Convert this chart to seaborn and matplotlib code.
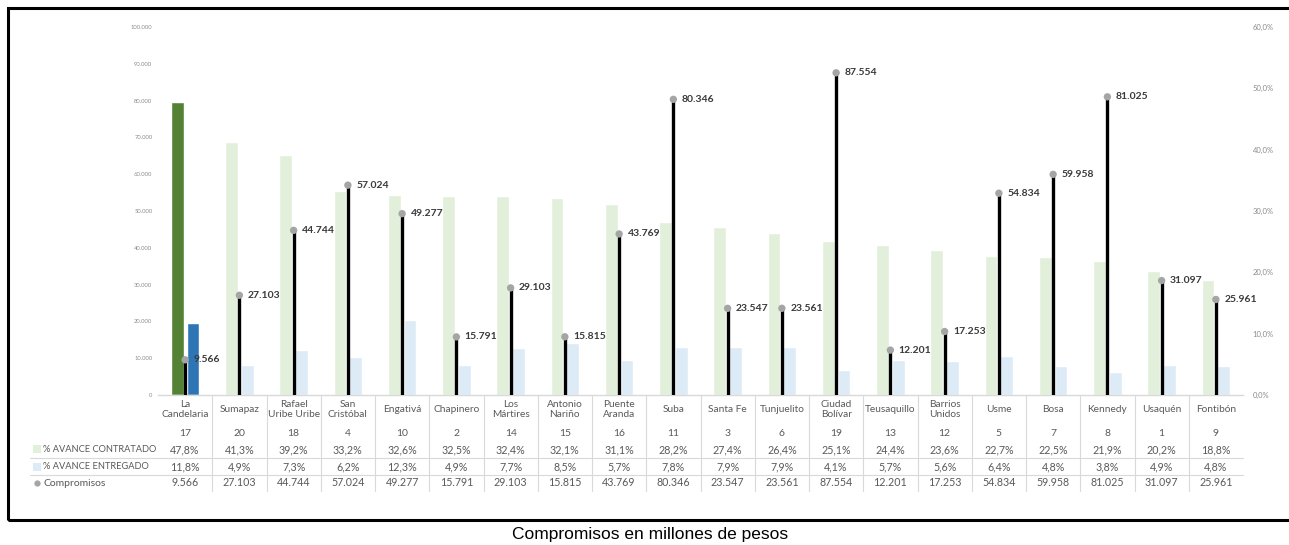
import numpy as np
import pandas as pd
import matplotlib
matplotlib.use("Agg")
import matplotlib.pyplot as plt
import matplotlib.transforms as mtransforms
from matplotlib.patches import Rectangle
import seaborn as sns

# datos por localidad
localidades = ["La Candelaria", "Sumapaz", "Rafael Uribe Uribe", "San Cristóbal", "Engativá",
               "Chapinero", "Los Mártires", "Antonio Nariño", "Puente Aranda", "Suba",
               "Santa Fe", "Tunjuelito", "Ciudad Bolívar", "Teusaquillo", "Barrios Unidos",
               "Usme", "Bosa", "Kennedy", "Usaquén", "Fontibón"]
etiquetas = ["La\nCandelaria", "Sumapaz", "Rafael\nUribe Uribe", "San\nCristóbal", "Engativá",
             "Chapinero", "Los\nMártires", "Antonio\nNariño", "Puente\nAranda", "Suba",
             "Santa Fe", "Tunjuelito", "Ciudad\nBolívar", "Teusaquillo", "Barrios\nUnidos",
             "Usme", "Bosa", "Kennedy", "Usaquén", "Fontibón"]
codigos = [17, 20, 18, 4, 10, 2, 14, 15, 16, 11, 3, 6, 19, 13, 12, 5, 7, 8, 1, 9]
contratado = [47.8, 41.3, 39.2, 33.2, 32.6, 32.5, 32.4, 32.1, 31.1, 28.2,
              27.4, 26.4, 25.1, 24.4, 23.6, 22.7, 22.5, 21.9, 20.2, 18.8]
entregado = [11.8, 4.9, 7.3, 6.2, 12.3, 4.9, 7.7, 8.5, 5.7, 7.8,
             7.9, 7.9, 4.1, 5.7, 5.6, 6.4, 4.8, 3.8, 4.9, 4.8]
compromisos = [9566, 27103, 44744, 57024, 49277, 15791, 29103, 15815, 43769, 80346,
               23547, 23561, 87554, 12201, 17253, 54834, 59958, 81025, 31097, 25961]

series = ["% AVANCE CONTRATADO", "% AVANCE ENTREGADO"]
df = pd.DataFrame({
    "localidad": localidades * 2,
    "serie": [series[0]] * len(localidades) + [series[1]] * len(localidades),
    "valor": contratado + entregado,
})

VERDE_CLARO = "#E2EFDA"
AZUL_CLARO = "#DDEBF7"
VERDE = "#548235"
AZUL = "#2E75B6"
GRIS_MARCA = "#A5A5A5"
TXT = "#595959"

def miles(v):
    return f"{v:,}".replace(",", ".")

def pct(v):
    return f"{v:.1f}%".replace(".", ",")

sns.set_style("white")
plt.rcParams["font.family"] = ["Lato", "DejaVu Sans"]

W, H = 1289, 545
fig = plt.figure(figsize=(W / 100, H / 100), dpi=100)
ax = fig.add_axes([158 / W, 1 - 395 / H, (1243 - 158) / W, (395 - 27) / H])
ax2 = ax.twinx()

# barras de avance (eje derecho)
sns.barplot(data=df, x="localidad", y="valor", hue="serie", order=localidades,
            hue_order=series, palette=[VERDE_CLARO, AZUL_CLARO], width=0.58, gap=0.2,
            saturation=1, legend=False, ax=ax2)
ax2.containers[0][0].set_facecolor(VERDE)
ax2.containers[1][0].set_facecolor(AZUL)

# compromisos (eje izquierdo)
xs = np.arange(len(localidades))
ax.vlines(xs, 0, compromisos, color="black", lw=2.4, zorder=3)
sns.scatterplot(x=xs, y=compromisos, ax=ax, color=GRIS_MARCA, s=28,
                edgecolor="none", zorder=4, legend=False)
for x, v in zip(xs, compromisos):
    ax.annotate(miles(v), (x, v), xytext=(6, 0), textcoords="offset points",
                ha="left", va="center", fontsize=7.5, fontweight="bold", color="#3A3A3A")

ax.set_zorder(ax2.get_zorder() + 1)
ax.patch.set_visible(False)

ax.set_ylim(0, 100000)
ax2.set_ylim(0, 60)
ax.set_xlim(-0.5, len(localidades) - 0.5)
ax.set_yticks(np.arange(0, 100001, 10000))
ax.set_yticklabels([miles(int(t)) for t in np.arange(0, 100001, 10000)])
ax2.set_yticks(np.arange(0, 61, 10))
ax2.set_yticklabels([pct(t) for t in np.arange(0, 61, 10)])
ax.tick_params(axis="y", length=0, labelsize=4.2, labelcolor="#8C8C8C", pad=4)
ax2.tick_params(axis="y", length=0, labelsize=5.5, labelcolor="#8C8C8C", pad=7)
ax.tick_params(axis="x", bottom=False, labelbottom=False)
ax2.tick_params(axis="x", bottom=False, labelbottom=False)
ax.set_xlabel("")
ax.set_ylabel("")
ax2.set_xlabel("")
ax2.set_ylabel("")
for a in (ax, ax2):
    for s in a.spines.values():
        s.set_visible(False)
ax.spines["bottom"].set_visible(True)
ax.spines["bottom"].set_color("#D9D9D9")
ax.spines["bottom"].set_linewidth(1)

# tabla de datos
tr = mtransforms.blended_transform_factory(ax.transData, fig.transFigure)
def fy(py):
    return 1 - py / H

for i in range(len(localidades)):
    ax.text(i, fy(409.5), etiquetas[i], transform=tr, ha="center", va="center",
            fontsize=7.3, color=TXT, linespacing=1.1)
    ax.text(i, fy(433), str(codigos[i]), transform=tr, ha="center", va="center",
            fontsize=7.5, color=TXT)
    ax.text(i, fy(449.5), pct(contratado[i]), transform=tr, ha="center", va="center",
            fontsize=7.7, color=TXT)
    ax.text(i, fy(466.5), pct(entregado[i]), transform=tr, ha="center", va="center",
            fontsize=7.7, color=TXT)
    ax.text(i, fy(483), miles(compromisos[i]), transform=tr, ha="center", va="center",
            fontsize=7.7, color=TXT)

for i in range(len(localidades) - 1):
    fig.add_artist(plt.Line2D([i + 0.5, i + 0.5], [fy(396), fy(491)], transform=tr,
                              color="#D9D9D9", lw=0.8))
for py in (458, 475):
    fig.add_artist(plt.Line2D([30 / W, 1243 / W], [fy(py), fy(py)], transform=fig.transFigure,
                              color="#D9D9D9", lw=0.8))

# claves de la tabla
fig.add_artist(Rectangle((33 / W, fy(453)), 8 / W, 8 / H, transform=fig.transFigure,
                         facecolor=VERDE_CLARO, edgecolor="none"))
fig.add_artist(Rectangle((33 / W, fy(471)), 8 / W, 8 / H, transform=fig.transFigure,
                         facecolor=AZUL_CLARO, edgecolor="none"))
fig.add_artist(plt.Line2D([37 / W], [fy(483)], transform=fig.transFigure, marker="o",
                          markersize=4.5, color=GRIS_MARCA, markeredgewidth=0))
for py, txt, fs in zip((449.5, 466.5, 483), series + ["Compromisos"], (6.7, 6.7, 7.5)):
    fig.text(43 / W, fy(py), txt, ha="left", va="center", fontsize=fs, color=TXT)

# marco y título inferior
fig.add_artist(Rectangle((8 / W, fy(520)), 1.2, (520 - 8) / H, transform=fig.transFigure,
                         fill=False, edgecolor="black", lw=2.2, clip_on=False))
fig.text(650 / W, fy(535), "Compromisos en millones de pesos", ha="center", va="center",
         fontsize=12.5, family="Liberation Sans", color="black")

fig.savefig("out.png", dpi=100)
